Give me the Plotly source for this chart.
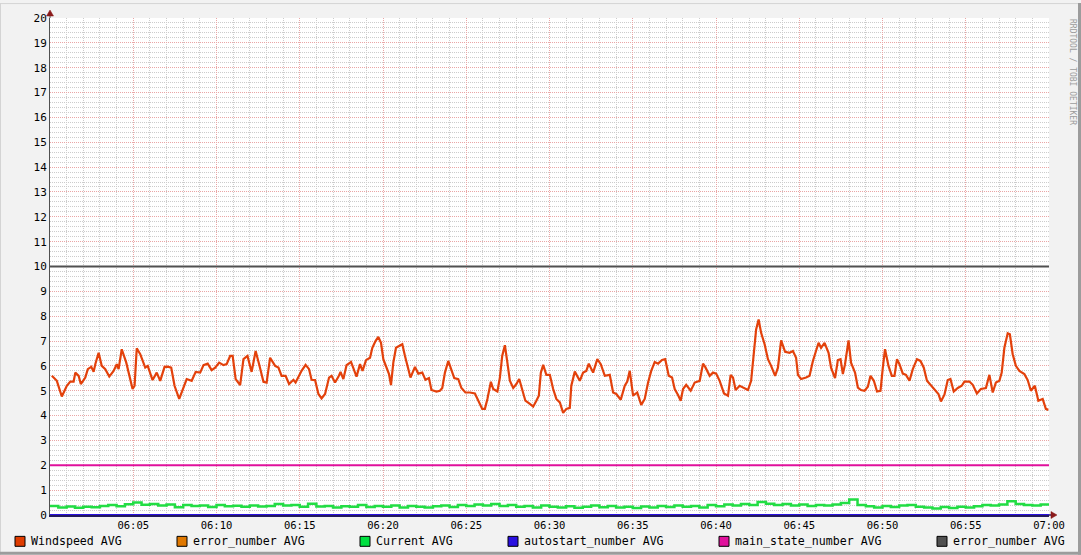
import pandas as pd
import plotly.graph_objects as go

DAY = "2024-01-01 06:00:00"

# ---- data ----------------------------------------------------------------
wind_min = [0.11, 0.41, 0.71, 1.01, 1.22, 1.42, 1.52, 1.72, 1.85, 2.12, 2.27, 2.48, 2.62, 2.72, 2.92,
            3.11, 3.32, 3.56, 3.82, 4.01, 4.12, 4.31, 4.58, 4.76, 4.96, 5.08, 5.21, 5.42, 5.72, 5.87,
            6.16, 6.41, 6.62, 6.88, 7.07, 7.28, 7.48, 7.76, 7.96, 8.21, 8.51, 8.75, 9.02, 9.22, 9.47,
            9.71, 9.92, 10.16, 10.42, 10.61, 10.82, 10.97, 11.15, 11.42, 11.62, 11.86, 12.11, 12.35,
            12.56, 12.82, 13.01, 13.22, 13.52, 13.72, 13.91, 14.15, 14.36, 14.62, 14.75,
            14.92, 15.11, 15.35, 15.56, 15.71, 15.92, 16.12, 16.31, 16.52, 16.76, 16.91, 17.12, 17.32,
            17.45, 17.62, 17.81, 18.08, 18.28, 18.41, 18.62, 18.77, 18.98, 19.22, 19.36, 19.55, 19.72,
            19.88, 20.02, 20.21, 20.36, 20.48, 20.62, 20.78, 21.02, 21.16, 21.32, 21.52, 21.65, 21.92,
            22.12, 22.36, 22.55, 22.76, 22.91, 23.21, 23.42, 23.56, 23.72, 23.92, 24.11, 24.28, 24.52,
            24.71, 24.95, 25.22, 25.52, 25.72, 25.96, 26.12, 26.27, 26.48, 26.62, 26.87, 27.02, 27.16,
            27.32, 27.47, 27.62, 27.82, 28.01, 28.18, 28.36, 28.55, 28.82, 29.02, 29.21, 29.36, 29.48,
            29.62, 29.81,
            30.02, 30.22, 30.41, 30.62, 30.82, 31.01, 31.22, 31.31, 31.52, 31.82, 32.02, 32.21, 32.36,
            32.62, 32.87, 33.08, 33.32, 33.62, 33.82, 34.01, 34.28, 34.52, 34.67, 34.82, 35.02, 35.27,
            35.51, 35.72, 35.92, 36.11, 36.32, 36.52, 36.76, 36.95, 37.16, 37.36, 37.52, 37.72, 37.88,
            38.02, 38.21, 38.48, 38.72, 39.02, 39.22, 39.35, 39.62, 39.82, 40.01, 40.22, 40.48, 40.72,
            40.88, 41.02, 41.18, 41.42, 41.72, 41.92, 42.11, 42.28, 42.41, 42.56, 42.71, 42.92, 43.12,
            43.31, 43.55, 43.72, 43.91, 44.15, 44.42, 44.62, 44.81,
            44.92, 45.11, 45.41, 45.62, 45.82, 46.01, 46.16, 46.31, 46.52, 46.76, 46.91, 47.15, 47.32,
            47.48, 47.62, 47.75, 47.96, 48.11, 48.35, 48.52, 48.71, 48.92, 49.12, 49.28, 49.48, 49.67,
            49.88, 50.02, 50.15, 50.36, 50.56, 50.72, 50.87, 51.02, 51.22, 51.41, 51.62, 51.82, 52.07,
            52.28, 52.48, 52.67, 52.91, 53.15, 53.36, 53.51, 53.72, 53.92, 54.08, 54.28, 54.52, 54.76,
            54.92, 55.22, 55.42, 55.67, 55.91, 56.21, 56.42, 56.62, 56.81, 57.02, 57.16, 57.32, 57.52,
            57.65, 57.82, 58.01, 58.22, 58.52, 58.72, 58.91, 59.15, 59.36, 59.62, 59.81, 59.96]

wind_val = [5.60, 5.40, 4.77, 5.20, 5.37, 5.37, 5.73, 5.60, 5.27, 5.53, 5.87, 5.96, 5.76, 6.07, 6.53,
            6.00, 5.87, 5.57, 5.80, 6.07, 5.87, 6.67, 6.13, 5.67, 5.07, 5.20, 6.71, 6.47, 5.93, 6.00,
            5.43, 5.73, 5.40, 5.96, 5.97, 5.93, 5.20, 4.67, 5.00, 5.47, 5.40, 5.76, 5.73, 6.03, 6.09,
            5.83, 5.93, 6.13, 6.03, 6.07, 6.40, 6.40, 5.47, 5.23, 6.27, 6.40, 5.76, 6.60,
            6.07, 5.36, 5.33, 6.33, 6.00, 5.93, 5.60, 5.60, 5.27, 5.44, 5.33,
            5.56, 5.80, 6.04, 5.87, 5.44, 5.43, 4.87, 4.69, 4.87, 5.53, 5.60, 5.33, 5.56,
            5.76, 5.47, 6.03, 6.16, 5.76, 5.57, 6.07, 5.80, 6.23, 6.33, 6.73, 7.00, 7.17,
            6.93, 6.27, 5.93, 5.67, 5.23, 6.13, 6.73, 6.80, 6.87, 6.40, 5.80, 5.53, 5.96,
            5.69, 5.73, 5.44, 5.51, 5.03, 4.97, 5.00, 5.11, 5.73, 6.20, 5.87, 5.51, 5.47,
            5.11, 4.93, 4.93, 4.89, 4.60, 4.27, 4.27, 4.67, 5.36, 5.07, 4.97, 5.53, 6.40,
            6.83, 6.13, 5.40, 5.11, 5.27, 5.47, 5.07, 4.60, 4.47, 4.36, 4.60, 4.80, 5.73,
            6.04, 5.64,
            5.64, 5.07, 4.67, 4.53, 4.11, 4.27, 4.31, 5.20, 5.77, 5.40, 5.73, 5.80, 6.09,
            5.73, 6.27, 6.07, 5.60, 5.64, 4.93, 4.87, 4.64, 5.20, 5.37, 5.80, 4.80, 4.93,
            4.43, 4.67, 5.33, 5.80, 6.16, 6.09, 6.24, 6.27, 5.60, 5.53, 5.07, 4.83, 4.60,
            5.07, 5.24, 5.00, 5.33, 5.40, 6.09, 5.96, 5.60, 5.73, 5.69, 5.40, 4.89, 4.80,
            5.64, 5.53, 5.03, 5.20, 5.11, 5.03, 5.40, 6.73, 7.47, 7.87, 7.33, 6.87, 6.27,
            6.00, 5.60, 5.93, 7.03, 6.57, 6.53, 6.60, 6.33,
            5.64, 5.47, 5.53, 5.60, 6.20, 6.60, 6.93, 6.73, 6.93, 6.53, 5.93, 5.51, 6.23,
            6.27, 5.67, 6.07, 7.03, 6.13, 5.73, 5.13, 5.03, 5.00, 5.16, 5.60, 5.40, 4.97,
            5.00, 5.93, 6.67, 6.00, 5.60, 5.60, 6.27, 6.07, 5.69, 5.64, 5.40, 5.87, 6.27,
            6.20, 5.93, 5.40, 5.20, 5.00, 4.87, 4.57, 4.84, 5.43, 5.47, 4.97, 5.11, 5.20,
            5.37, 5.37, 5.24, 4.89, 5.07, 5.11, 5.64, 4.93, 5.33, 5.40, 5.73, 6.73, 7.31,
            7.27, 6.47, 6.00, 5.80, 5.67, 5.43, 5.00, 5.20, 4.60, 4.67, 4.27, 4.23]

current_min = [i * 0.5 for i in range(121)]
current_val = [0.36, 0.30, 0.34, 0.29, 0.33, 0.31, 0.36, 0.40, 0.35, 0.43,
               0.50, 0.41, 0.44, 0.38, 0.42, 0.31, 0.40, 0.36, 0.38, 0.32,
               0.40, 0.35, 0.37, 0.33, 0.38, 0.34, 0.36, 0.44, 0.38, 0.40,
               0.33, 0.45, 0.34, 0.36, 0.30, 0.35, 0.33, 0.40, 0.32, 0.36,
               0.33, 0.38, 0.30, 0.36, 0.33, 0.30, 0.35, 0.38, 0.32, 0.40,
               0.36, 0.42, 0.38, 0.44, 0.36, 0.40, 0.33, 0.36, 0.30, 0.38,
               0.33, 0.30, 0.35, 0.29, 0.33, 0.38, 0.31, 0.36, 0.30, 0.33,
               0.28, 0.34, 0.30, 0.36, 0.32, 0.38, 0.33, 0.36, 0.30, 0.40,
               0.35, 0.42, 0.38, 0.44, 0.40, 0.52, 0.45, 0.40, 0.44, 0.38,
               0.42, 0.36, 0.40, 0.38, 0.42, 0.48, 0.62, 0.40, 0.35, 0.30,
               0.36, 0.32, 0.38, 0.40, 0.33, 0.30, 0.26, 0.32, 0.28, 0.33,
               0.30, 0.35, 0.40, 0.38, 0.42, 0.55, 0.44, 0.40, 0.38, 0.42,
               0.40]

const_min = [0, 60]
error_number_orange = [0, 0]
autostart_number = [0, 0]
main_state_number = [2, 2]
error_number_gray = [10, 10]

tick_labels = ["06:05", "06:10", "06:15", "06:20", "06:25", "06:30",
               "06:35", "06:40", "06:45", "06:50", "06:55", "07:00"]

legend_labels = ["Windspeed AVG", "error_number AVG", "Current AVG",
                 "autostart_number AVG", "main_state_number AVG", "error_number AVG"]
legend_colors = ["#e03c00", "#e07800", "#00e040", "#2a10e0", "#e0109c", "#505050"]

# ---- helpers -------------------------------------------------------------
base = pd.Timestamp(DAY)


def to_time(mins):
    return [base + pd.Timedelta(minutes=m) for m in mins]


MONO = "DejaVu Sans Mono"

fig = go.Figure()

fig.add_trace(go.Scatter(x=to_time(const_min), y=error_number_gray, mode="lines",
                         line=dict(color="#505050", width=2), hoverinfo="skip"))
fig.add_trace(go.Scatter(x=to_time(const_min), y=main_state_number, mode="lines",
                         line=dict(color="#e0109c", width=2), hoverinfo="skip"))
fig.add_trace(go.Scatter(x=to_time(const_min), y=error_number_orange, mode="lines",
                         line=dict(color="#e07800", width=2), hoverinfo="skip"))
fig.add_trace(go.Scatter(x=to_time(const_min), y=autostart_number, mode="lines",
                         line=dict(color="#2a10e0", width=2), hoverinfo="skip"))
fig.add_trace(go.Scatter(x=to_time(current_min), y=current_val, mode="lines",
                         line=dict(color="#22dd44", width=2.5, shape="hv"), hoverinfo="skip"))
fig.add_trace(go.Scatter(x=to_time(wind_min), y=wind_val, mode="lines",
                         line=dict(color="#e3410b", width=2.2), hoverinfo="skip"))

W, H = 1081, 555
L, R, T, B = 50, 32, 15, 40
PW, PH = W - L - R, H - T - B


def px_x(p):
    return (p - L) / PW


def px_y(p):
    return (H - B - p) / PH


date_str = base.strftime("%Y-%m-%d")
tickvals = [pd.Timestamp(date_str + " " + t) for t in tick_labels]
# minor grid: every minute / every 0.2, skipping the major positions
x_minor = [base + pd.Timedelta(minutes=m) for m in range(1, 60) if m % 5 != 0]
y_minor = [round(k * 0.2, 1) for k in range(1, 100) if k % 5 != 0]

fig.update_layout(
    width=W, height=H,
    margin=dict(l=L, r=R, t=T, b=B),
    paper_bgcolor="#f2f2f2",
    plot_bgcolor="#ffffff",
    showlegend=False,
    hovermode=False,
    font=dict(family=MONO, size=11, color="#000000"),
    xaxis=dict(
        range=[base, base + pd.Timedelta(minutes=60)],
        tickvals=tickvals, ticktext=tick_labels,
        showgrid=True, gridcolor="#eaa6a6", griddash="1px,1px", gridwidth=1,
        minor=dict(tickmode="array", tickvals=x_minor, showgrid=True, gridcolor="#cccccc",
                   griddash="1px,1px", gridwidth=1),
        showline=True, linecolor="#241a5c", linewidth=1.5,
        ticks="", tickfont=dict(family=MONO, size=10.5, color="#000"),
        zeroline=False, fixedrange=True,
    ),
    yaxis=dict(
        range=[0, 20], dtick=1, tick0=0,
        showgrid=True, gridcolor="#eaa6a6", griddash="1px,1px", gridwidth=1,
        minor=dict(tickmode="array", tickvals=y_minor, showgrid=True, gridcolor="#cccccc",
                   griddash="1px,1px", gridwidth=1),
        showline=True, linecolor="#505050", linewidth=1,
        ticks="", tickfont=dict(family=MONO, size=11, color="#000"),
        zeroline=False, fixedrange=True,
    ),
)

shapes = []
annotations = []

# outer 3D-ish border
shapes += [
    dict(type="line", xref="paper", yref="paper", x0=px_x(0), x1=px_x(W), y0=px_y(0.5), y1=px_y(0.5),
         line=dict(color="#d4d4d4", width=1)),
    dict(type="line", xref="paper", yref="paper", x0=px_x(0.5), x1=px_x(0.5), y0=px_y(0), y1=px_y(H),
         line=dict(color="#d4d4d4", width=1)),
    dict(type="line", xref="paper", yref="paper", x0=px_x(0), x1=px_x(W), y0=px_y(H - 1.5), y1=px_y(H - 1.5),
         line=dict(color="#9c9c9c", width=3)),
    dict(type="line", xref="paper", yref="paper", x0=px_x(W - 1.5), x1=px_x(W - 1.5), y0=px_y(0), y1=px_y(H),
         line=dict(color="#9c9c9c", width=3)),
]

# axis arrows
shapes += [
    dict(type="line", xref="paper", yref="paper", x0=0, x1=0, y0=1, y1=px_y(10),
         line=dict(color="#505050", width=1)),
    dict(type="line", xref="paper", yref="paper", x0=1, x1=px_x(1053), y0=0, y1=0,
         line=dict(color="#241a5c", width=1.5)),
    dict(type="path", xref="paper", yref="paper", xsizemode="pixel", ysizemode="pixel",
         xanchor=0, yanchor=1, path="M -3.5,2 L 3.5,2 L 0,8 Z",
         fillcolor="#8b1a1a", line=dict(color="#8b1a1a", width=0.5)),
    dict(type="path", xref="paper", yref="paper", xsizemode="pixel", ysizemode="pixel",
         xanchor=1, yanchor=0, path="M 2,-3.5 L 2,3.5 L 8,0 Z",
         fillcolor="#8b1a1a", line=dict(color="#8b1a1a", width=0.5)),
]

# custom rrdtool-like legend, justified across the bottom
CHAR_W = 7.0
SQ = 10
left_px, right_px = 15, 1064
widths = [SQ + 5 + len(t) * CHAR_W for t in legend_labels]
gap = (right_px - left_px - sum(widths)) / (len(legend_labels) - 1)
xpos = left_px
for lab, col, w in zip(legend_labels, legend_colors, widths):
    shapes.append(dict(type="rect", xref="paper", yref="paper",
                       x0=px_x(xpos), x1=px_x(xpos + SQ), y0=px_y(536.5), y1=px_y(546.5),
                       fillcolor=col, line=dict(color="#000000", width=1)))
    annotations.append(dict(text=lab, xref="paper", yref="paper", x=px_x(xpos + SQ + 4),
                            y=px_y(541.5), xanchor="left", yanchor="middle", showarrow=False,
                            font=dict(family=MONO, size=11.6, color="#000")))
    xpos += w + gap

# watermark
annotations.append(dict(text="RRDTOOL / TOBI OETIKER", xref="paper", yref="paper",
                        x=px_x(1073), y=px_y(14), xanchor="center", yanchor="top",
                        textangle=90, showarrow=False,
                        font=dict(family=MONO, size=8, color="#9c9c9c")))

fig.update_layout(shapes=shapes, annotations=annotations)

fig.write_html("out.html", config={"displayModeBar": False},
               post_script="document.body.style.margin='0';document.body.style.padding='0';")
